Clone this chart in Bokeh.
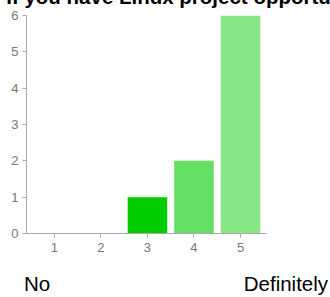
from bokeh.plotting import figure
from bokeh.models import Range1d, FixedTicker, ColumnDataSource, Title
from bokeh.embed import file_html
from bokeh.resources import INLINE

# Data
ratings = [1, 2, 3, 4, 5]
counts = [0, 0, 1, 2, 6]
bar_colors = ["#00aa00", "#00bb00", "#00cc00", "#64e064", "#88e888"]
y_ticks = [0, 1, 2, 3, 4, 5, 6]
title_text = "If you have Linux project opportunities, would you like to hear about them?"
low_label = "No"
high_label = "Definitely"

NB = "\u00a0"
scale_text = low_label + NB * 34 + high_label

src = ColumnDataSource(dict(x=ratings, top=counts, color=bar_colors))

# frame spans the full label row; the axis line is limited by bounds
p = figure(width=330, height=322, output_backend="svg", toolbar_location=None,
           x_range=Range1d(0.4, 6.827), y_range=Range1d(0, 6),
           min_border_left=26, min_border_right=5, min_border_top=0, min_border_bottom=64)
p.styles = {"position": "absolute", "top": "-25px", "left": "0px"}

p.vbar(x="x", top="top", bottom=0, width=0.85, fill_color="color", line_color=None, source=src)

p.xgrid.visible = False
p.ygrid.visible = False
p.outline_line_color = None
p.background_fill_color = "white"
p.border_fill_color = "white"

for ax in (p.xaxis, p.yaxis):
    ax.axis_line_color = "#aaaaaa"
    ax.major_tick_line_color = "#aaaaaa"
    ax.minor_tick_line_color = None
    ax.major_tick_in = 0
    ax.major_tick_out = 4
    ax.major_label_text_color = "#777777"
    ax.major_label_text_font = "Liberation Sans"
    ax.major_label_text_font_size = "13px"

p.xaxis.bounds = (0.4, 5.56)
p.xaxis.ticker = FixedTicker(ticks=ratings)
p.yaxis.ticker = FixedTicker(ticks=y_ticks)
p.xaxis.major_label_standoff = 5
p.yaxis.major_label_standoff = 4

p.xaxis.axis_label = scale_text
p.xaxis.axis_label_standoff = 17
p.xaxis.axis_label_text_font = "Liberation Sans"
p.xaxis.axis_label_text_font_size = "20.5px"
p.xaxis.axis_label_text_font_style = "normal"
p.xaxis.axis_label_text_color = "black"

t = Title(text=title_text, align="left", vertical_align="bottom", offset=-20.3, standoff=15,
          text_font="Liberation Sans", text_font_style="bold", text_font_size="20.5px",
          text_color="black")
p.add_layout(t, "above")

open("out.html", "w").write(file_html(p, INLINE))
